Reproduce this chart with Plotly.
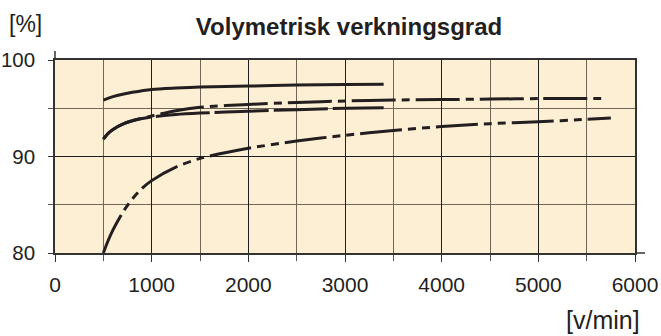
import plotly.graph_objects as go

# Volumetric efficiency [%] versus speed [v/min]
rpm_a = [500, 600, 700, 800, 1000, 1250, 1500, 2000, 2500, 3000, 3400]
eff_a = [95.85, 96.2, 96.45, 96.65, 96.95, 97.1, 97.2, 97.3, 97.4, 97.45, 97.5]

rpm_b = [500, 550, 600, 700, 800, 1000, 1250, 1500, 2000, 2500, 3000, 3500, 4000, 4500, 5000, 5650]
eff_b = [91.8, 92.4, 92.8, 93.35, 93.7, 94.2, 94.75, 95.1, 95.4, 95.6, 95.75, 95.85, 95.9, 95.95, 96.0, 96.0]

rpm_c = [500, 550, 600, 700, 800, 1000, 1250, 1500, 2000, 2500, 3000, 3400]
eff_c = [91.8, 92.4, 92.8, 93.35, 93.7, 94.1, 94.35, 94.5, 94.7, 94.85, 95.0, 95.05]

rpm_d = [500, 550, 600, 700, 800, 900, 1000, 1250, 1500, 2000, 2500, 3000, 3500, 4000, 4500, 5000, 5500, 5750]
eff_d = [80.0, 81.3, 82.4, 84.2, 85.6, 86.7, 87.5, 88.9, 89.8, 90.85, 91.6, 92.2, 92.7, 93.1, 93.4, 93.6, 93.85, 94.0]

x_ticks = [0, 1000, 2000, 3000, 4000, 5000, 6000]
y_ticks = [80, 90, 100]

INK = "#231f20"
FONT = "Liberation Sans, Arial, sans-serif"

series = [
    (rpm_a, eff_a, "solid"),
    (rpm_b, eff_b, "44px,6px,8px,6px"),
    (rpm_c, eff_c, "54px,5px"),
    (rpm_d, eff_d, "42px,6px,8px,6px,8px,6px"),
]

fig = go.Figure()
for xs, ys, dash in series:
    fig.add_trace(go.Scatter(
        x=xs, y=ys, mode="lines",
        line=dict(color=INK, width=3, dash=dash, shape="spline", smoothing=0.8),
        showlegend=False, hoverinfo="skip",
    ))

fig.update_layout(
    width=661, height=336,
    margin=dict(l=55, r=26, t=60, b=83, autoexpand=False),
    paper_bgcolor="white",
    plot_bgcolor="#FDEFD4",
    font=dict(family=FONT, size=21, color=INK),
    title=dict(
        text="<b>Volymetrisk verkningsgrad</b>",
        x=349 / 661, xanchor="center",
        y=1 - 27 / 336, yanchor="middle",
        font=dict(family=FONT, size=24, color=INK),
    ),
    xaxis=dict(
        range=[0, 6000], tickvals=x_ticks, ticks="outside", ticklen=7,
        tickcolor="#333", tickwidth=1.3,
        showgrid=True, gridcolor="#1e1e1e", gridwidth=1.4,
        showline=True, linecolor="#333", linewidth=1.5, mirror=True,
        zeroline=False, ticklabelstandoff=5, automargin=False,
        minor=dict(dtick=500, showgrid=True, gridcolor="#716758", gridwidth=1.2,
                   ticks="outside", ticklen=6, tickcolor="#555"),
        fixedrange=True,
    ),
    yaxis=dict(
        range=[80, 100], tickvals=y_ticks, ticks="outside", ticklen=5,
        tickcolor="#333", tickwidth=1.3,
        showgrid=True, gridcolor="#1e1e1e", gridwidth=1.4,
        showline=True, linecolor="#333", linewidth=1.5, mirror=True,
        zeroline=False, ticklabelstandoff=9, automargin=False,
        tickfont=dict(family=FONT, size=20.5, color=INK),
        minor=dict(dtick=5, showgrid=True, gridcolor="#716758", gridwidth=1.2,
                   ticks="outside", ticklen=5, tickcolor="#555"),
        fixedrange=True,
    ),
    annotations=[
        dict(text="[%]", xref="paper", yref="paper", x=(25 - 55) / 580,
             y=1 + 36 / 193, xanchor="center", yanchor="middle", showarrow=False,
             font=dict(family=FONT, size=23, color=INK)),
        dict(text="[v/min]", xref="paper", yref="paper", x=(603 - 55) / 580,
             y=-(320 - 253) / 193, xanchor="center", yanchor="middle", showarrow=False,
             font=dict(family=FONT, size=25, color=INK)),
    ],
    shapes=[
        # axis lines run slightly past the plotting frame
        dict(type="line", xref="paper", yref="paper", x0=1, x1=(645 - 55) / 580,
             y0=0, y1=0, line=dict(color="#333", width=1.5)),
        dict(type="line", xref="paper", yref="paper", x0=0, x1=0,
             y0=1, y1=(253 - 51) / 193, line=dict(color="#333", width=1.5)),
    ],
)

fig.write_html("out.html")
